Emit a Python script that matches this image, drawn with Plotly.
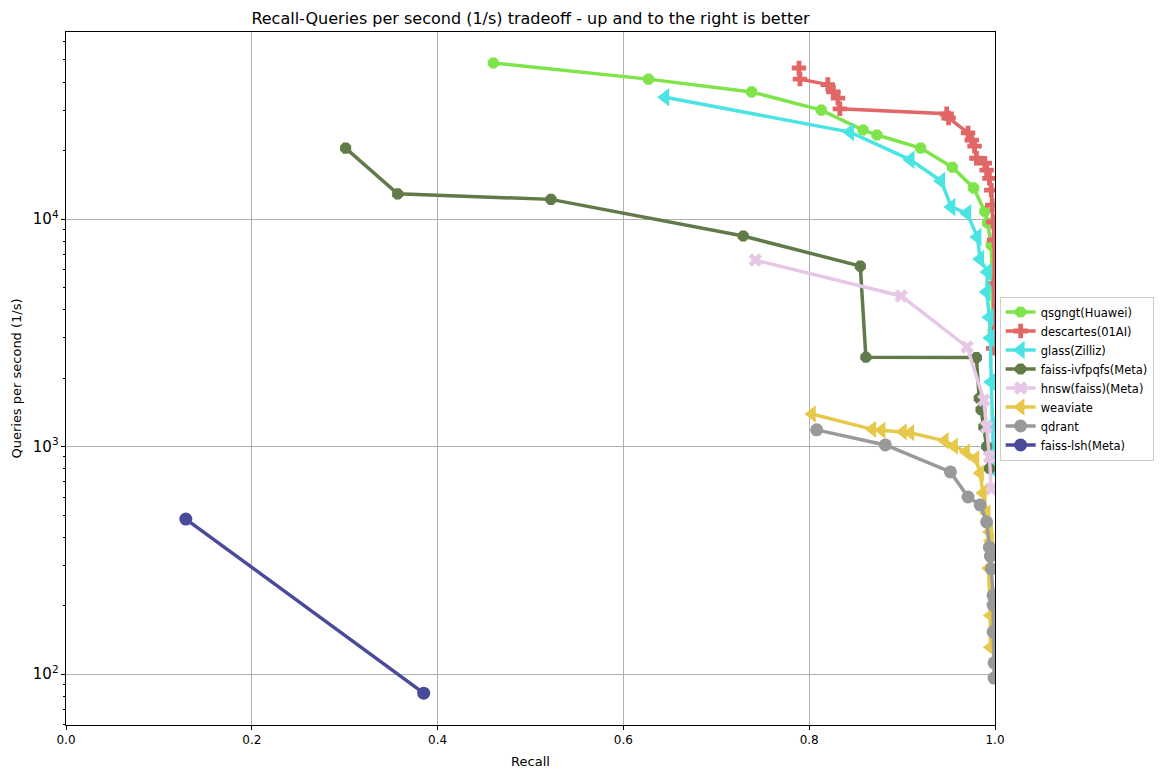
import plotly.graph_objects as go

# ---------------- data ----------------
qsgngt_recall = [0.460, 0.627, 0.738, 0.813, 0.858, 0.873, 0.920, 0.954, 0.977, 0.989, 0.992, 0.996, 0.998]
qsgngt_qps = [48500, 41200, 36200, 30100, 24600, 23400, 20500, 16900, 13700, 10800, 9600, 7700, 3200]

descartes_recall = [0.789, 0.790, 0.820, 0.826, 0.831, 0.833, 0.948, 0.950, 0.971, 0.975, 0.978, 0.980,
                    0.989, 0.991, 0.994, 0.996, 0.997, 0.998, 0.999, 0.999, 0.998]
descartes_qps = [46100, 41200, 39000, 36200, 34000, 30500, 29000, 27800, 23900, 22200, 20900, 18500,
                 17600, 16400, 15100, 13400, 11500, 9700, 8100, 5200, 2700]

glass_recall = [0.645, 0.844, 0.909, 0.942, 0.953, 0.970, 0.981, 0.984, 0.992, 0.991, 0.994, 0.995,
                0.996, 0.997, 0.998, 0.999]
glass_qps = [34300, 24100, 18200, 14700, 11300, 10600, 8340, 6670, 5850, 4780, 3700, 3000,
             1920, 1250, 1000, 790]

ivfpqfs_recall = [0.301, 0.357, 0.522, 0.729, 0.855, 0.861, 0.980, 0.983, 0.985, 0.988, 0.991, 0.994]
ivfpqfs_qps = [20500, 12900, 12200, 8420, 6210, 2470, 2460, 1630, 1450, 1220, 1000, 800]

hnsw_recall = [0.742, 0.899, 0.970, 0.988, 0.991, 0.994, 0.996]
hnsw_qps = [6600, 4590, 2740, 1600, 1220, 900, 650]

weaviate_recall = [0.803, 0.868, 0.878, 0.901, 0.909, 0.946, 0.956, 0.969, 0.979, 0.984, 0.987,
                   0.991, 0.994, 0.995, 0.993, 0.995, 0.995]
weaviate_qps = [1390, 1190, 1180, 1160, 1150, 1060, 1004, 946, 885, 764, 625,
                510, 421, 385, 292, 181, 131]

qdrant_recall = [0.808, 0.882, 0.952, 0.971, 0.984, 0.991, 0.994, 0.995, 0.996, 0.998, 0.998,
                 0.998, 0.999, 0.999]
qdrant_qps = [1184, 1016, 773, 600, 554, 466, 361, 330, 290, 222, 201, 153, 112, 96]

lsh_recall = [0.129, 0.385]
lsh_qps = [480, 82.4]

x_ticks = [0.0, 0.2, 0.4, 0.6, 0.8, 1.0]

series = [
    ("qsgngt(Huawei)", qsgngt_recall, qsgngt_qps, "#7fe44a", "octagon", 12),
    ("descartes(01AI)", descartes_recall, descartes_qps, "#e26666", "cross", 12),
    ("glass(Zilliz)", glass_recall, glass_qps, "#4ce3e3", "triangle-left", 16),
    ("faiss-ivfpqfs(Meta)", ivfpqfs_recall, ivfpqfs_qps, "#607b48", "octagon", 12),
    ("hnsw(faiss)(Meta)", hnsw_recall, hnsw_qps, "#e6c8e6", "x", 12),
    ("weaviate", weaviate_recall, weaviate_qps, "#e6c84a", "triangle-left", 15),
    ("qdrant", qdrant_recall, qdrant_qps, "#999999", "circle", 13),
    ("faiss-lsh(Meta)", lsh_recall, lsh_qps, "#4a4a9a", "circle", 13),
]

fig = go.Figure()
for name, xs, ys, color, sym, size in series:
    fig.add_trace(go.Scatter(
        x=xs, y=ys, name=name, mode="lines+markers",
        line=dict(color=color, width=3.5),
        marker=dict(symbol=sym, size=size, color=color, line=dict(width=0)),
    ))

W, H = 1164, 770
L, R, T, B = 58, 177, 24, 53
font = "DejaVu Sans, sans-serif"
fig.update_layout(
    width=W, height=H,
    margin=dict(l=L, r=R, t=T, b=B),
    paper_bgcolor="white", plot_bgcolor="white",
    font=dict(family=font, size=12, color="black"),
    title=dict(text="Recall-Queries per second (1/s) tradeoff - up and to the right is better",
               x=(L + W - R) / 2 / W, xanchor="center", y=1 - 10 / H, yanchor="middle",
               font=dict(size=16, family=font)),
    legend=dict(x=1.005, y=0.5, xanchor="left", yanchor="middle",
                bordercolor="#cccccc", borderwidth=1, font=dict(size=11.5, family=font),
                tracegroupgap=0),
    showlegend=True,
)
fig.update_xaxes(
    range=[0, 1], tickvals=x_ticks, tickformat=".1f", automargin=False,
    showgrid=True, gridcolor="#b0b0b0", gridwidth=1,
    showline=True, linecolor="black", linewidth=1, mirror=True,
    ticks="outside", ticklen=4, tickcolor="black", zeroline=False,
    title=dict(text="Recall", font=dict(size=13), standoff=10),
    tickfont=dict(size=12),
)
fig.update_yaxes(
    type="log", range=[1.776, 4.822], dtick=1, exponentformat="power", automargin=False,
    showgrid=True, gridcolor="#b0b0b0", gridwidth=1,
    showline=True, linecolor="black", linewidth=1, mirror=True,
    ticks="outside", ticklen=4, tickcolor="black", zeroline=False,
    minor=dict(ticks="outside", ticklen=2, tickcolor="black", showgrid=False),
    title=dict(text="Queries per second (1/s)", font=dict(size=13), standoff=8),
    tickfont=dict(size=12),
)

fig.write_html("out.html")
